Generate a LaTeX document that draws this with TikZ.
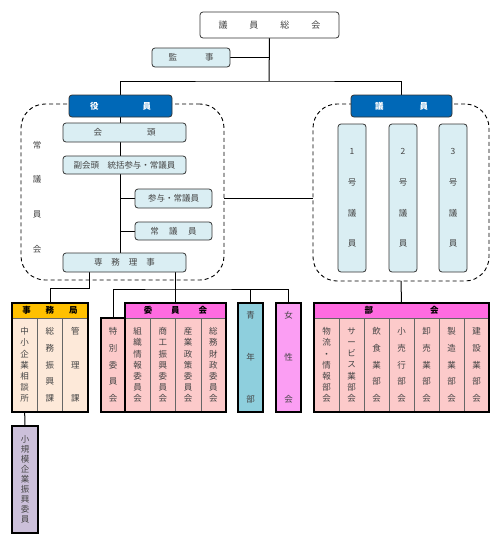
\documentclass[tikz,border=0pt]{standalone}
\usepackage{fontspec}
\setmainfont{Noto Sans CJK JP}
\usetikzlibrary{backgrounds}
\definecolor{lb}{HTML}{DAEEF3}
\definecolor{db}{HTML}{0068B7}
\definecolor{og}{HTML}{FFC000}
\definecolor{pe}{HTML}{FDE9D9}
\definecolor{mg}{HTML}{FF6BE0}
\definecolor{pk}{HTML}{FCCACA}
\definecolor{tl}{HTML}{8ECFDD}
\definecolor{fp}{HTML}{FB9EF3}
\definecolor{lv}{HTML}{CCC0DA}
\definecolor{tx}{HTML}{444444}
\tikzset{
 base/.style={inner sep=0pt, outer sep=0pt, anchor=north west, font=\fontsize{8.5}{10}\selectfont, text=tx},
 lbox/.style={base, draw=black!80, fill=lb, rounded corners=3pt, line width=0.8pt},
 dbox/.style={base, draw=black!80, fill=db, rounded corners=3pt, text=white, font=\fontsize{8.5}{10}\selectfont\bfseries, line width=0.8pt},
 outline/.style={base, draw=black, line width=1.4pt},
 hdr/.style={base, draw=black!70, line width=0.5pt, font=\fontsize{8.5}{10}\selectfont\bfseries, text=black},
 cell/.style={base, draw=black!60, line width=0.5pt, align=center},
 conn/.style={draw=black, line width=1pt},
 dashbox/.style={base, draw=black, line width=0.9pt, rounded corners=24pt, dash pattern=on 4pt off 3pt},
 vt/.style={inner sep=0pt, outer sep=0pt, align=center, text=tx},
 f7/.style={font=\fontsize{8.5}{11.17}\selectfont},
 f5/.style={font=\fontsize{8.5}{16.75}\selectfont},
 f3/.style={font=\fontsize{8.5}{33.5}\selectfont},
}
\begin{document}
\begin{tikzpicture}[x=1pt,y=-1pt]
\useasboundingbox (0,0) rectangle (502,541);
% dashed groups
\node[dashbox, minimum width=203pt, minimum height=176pt] (jogiin) at (21,104) {};
\node[dashbox, minimum width=176pt, minimum height=177pt] (giinarea) at (313,104) {};
\node[vt, font=\fontsize{8.5}{34.7}\selectfont] (jlabel) at (37,197) {常\\議\\員\\会};
% top
\node[base, draw=black!80, fill=white, rounded corners=3pt, line width=0.8pt, minimum width=139pt, minimum height=26pt, font=\fontsize{9}{10}\selectfont] (sokai) at (200,12) {議\hspace{22pt}員\hspace{22pt}総\hspace{22pt}会};
\node[lbox, minimum width=78pt, minimum height=19pt] (kanji) at (152,48) {監\hspace{28pt}事};
\node[dbox, minimum width=103pt, minimum height=22pt] (yakuin) at (69,95) {役\hspace{44pt}員};
\node[dbox, minimum width=101pt, minimum height=22pt] (giin) at (351,95) {議\hspace{36pt}員};
% left column
\node[lbox, minimum width=123pt, minimum height=19pt] (kaito) at (63,123) {会\hspace{45pt}頭};
\node[lbox, minimum width=123pt, minimum height=18pt] (fuku) at (63,156) {副会頭　統括参与・常議員};
\node[lbox, minimum width=77pt, minimum height=19pt] (sanyo) at (135,189) {参与・常議員};
\node[lbox, minimum width=77pt, minimum height=18pt] (jogi) at (135,222) {常\hspace{10.5pt}議\hspace{10.5pt}員};
\node[lbox, minimum width=123pt, minimum height=19pt] (senmu) at (63,253) {専\hspace{9pt}務\hspace{9pt}理\hspace{9pt}事};
% giin columns
\node[lbox, align=center, minimum width=28pt, minimum height=148pt, font=\fontsize{8.5}{30.7}\selectfont] (g1) at (338,124) {1\\号\\議\\員};
\node[lbox, align=center, minimum width=28pt, minimum height=148pt, font=\fontsize{8.5}{30.7}\selectfont] (g2) at (389,124) {2\\号\\議\\員};
\node[lbox, align=center, minimum width=28pt, minimum height=148pt, font=\fontsize{8.5}{30.7}\selectfont] (g3) at (439,124) {3\\号\\議\\員};
% jimukyoku
\node[hdr, fill=og, minimum width=76pt, minimum height=15pt] (jimh) at (12,303) {事\hspace{15pt}務\hspace{15pt}局};
\node[cell, fill=pe, f7, minimum width=25.33pt, minimum height=94pt] (jc1) at (12,318) {中\\小\\企\\業\\相\\談\\所};
\node[cell, fill=pe, f5, minimum width=25.33pt, minimum height=94pt] (jc2) at (37.33,318) {総\\務\\振\\興\\課};
\node[cell, fill=pe, f3, minimum width=25.33pt, minimum height=94pt] (jc3) at (62.67,318) {管\\理\\課};
\node[outline, minimum width=76pt, minimum height=109pt] (jimout) at (12,303) {};
% tokubetsu
\node[cell, fill=pk, f5, minimum width=24pt, minimum height=94pt] (toku) at (101,318) {特\\別\\委\\員\\会};
\node[outline, minimum width=24pt, minimum height=94pt] (tokuout) at (101,318) {};
% iinkai
\node[hdr, fill=mg, minimum width=101pt, minimum height=15pt] (iinh) at (125,303) {委\hspace{19pt}員\hspace{19pt}会};
\node[cell, fill=pk, f7, minimum width=25.25pt, minimum height=94pt] (ic1) at (125,318) {組\\織\\情\\報\\委\\員\\会};
\node[cell, fill=pk, f7, minimum width=25.25pt, minimum height=94pt] (ic2) at (150.25,318) {商\\工\\振\\興\\委\\員\\会};
\node[cell, fill=pk, f7, minimum width=25.25pt, minimum height=94pt] (ic3) at (175.5,318) {産\\業\\政\\策\\委\\員\\会};
\node[cell, fill=pk, f7, minimum width=25.25pt, minimum height=94pt] (ic4) at (200.75,318) {総\\務\\財\\政\\委\\員\\会};
\node[outline, minimum width=101pt, minimum height=109pt] (iinout) at (125,303) {};
% seinen, josei
\node[outline, fill=tl, align=center, font=\fontsize{8.5}{42}\selectfont, minimum width=25pt, minimum height=109pt] (seinen) at (238,303) {青\\年\\部};
\node[outline, fill=fp, align=center, font=\fontsize{8.5}{42}\selectfont, minimum width=25pt, minimum height=109pt] (josei) at (276,303) {女\\性\\会};
% bukai
\node[hdr, fill=mg, minimum width=175pt, minimum height=15pt] (bukh) at (314,303) {部\hspace{57pt}会};
\node[cell, fill=pk, f7, minimum width=25pt, minimum height=94pt] (bc1) at (314,318) {物\\流\\・\\情\\報\\部\\会};
\node[cell, fill=pk, f7, minimum width=25pt, minimum height=94pt] (bc2) at (339,318) {サ\\ー\\ビ\\ス\\業\\部\\会};
\node[cell, fill=pk, f5, minimum width=25pt, minimum height=94pt] (bc3) at (364,318) {飲\\食\\業\\部\\会};
\node[cell, fill=pk, f5, minimum width=25pt, minimum height=94pt] (bc4) at (389,318) {小\\売\\行\\部\\会};
\node[cell, fill=pk, f5, minimum width=25pt, minimum height=94pt] (bc5) at (414,318) {卸\\売\\業\\部\\会};
\node[cell, fill=pk, f5, minimum width=25pt, minimum height=94pt] (bc6) at (439,318) {製\\造\\業\\部\\会};
\node[cell, fill=pk, f5, minimum width=25pt, minimum height=94pt] (bc7) at (464,318) {建\\設\\業\\部\\会};
\node[outline, minimum width=175pt, minimum height=109pt] (bukout) at (314,303) {};
% shokibo
\node[outline, fill=lv, align=center, font=\fontsize{8.5}{10}\selectfont, minimum width=26pt, minimum height=107pt] (shokibo) at (12,426) {小\\規\\模\\企\\業\\振\\興\\委\\員};
% connectors
\begin{pgfonlayer}{background}
\coordinate (jtop) at (269,81);
\coordinate (s1) at (89,288);
\coordinate (s2) at (176,289);
\draw[conn] (sokai.south) -- (jtop);
\draw[conn] (kanji.east) -- (kanji.east -| jtop);
\draw[conn] (yakuin.north) |- (jtop) -| (giin.north);
\draw[conn] (yakuin.south) -- (yakuin.south |- senmu.north);
\draw[conn] (yakuin.south |- sanyo.west) -- (sanyo.west);
\draw[conn] (yakuin.south |- jogi.west) -- (jogi.west);
\draw[conn] (jogiin.east |- sanyo.west) -- (giinarea.west |- sanyo.west);
\draw[conn] (senmu.south -| s1) -- (s1) -| (jimh.north);
\draw[conn] (senmu.south -| iinh.north) -- (iinh.north);
\draw[conn] (toku.north) |- (s2) -| (josei.north);
\draw[conn] (seinen.north) -- (seinen.north |- s2);
\draw[conn] (giinarea.south) -- (bukh.north);
\draw[conn] (jc1.south) -- (shokibo.north);
\end{pgfonlayer}
\end{tikzpicture}
\end{document}
